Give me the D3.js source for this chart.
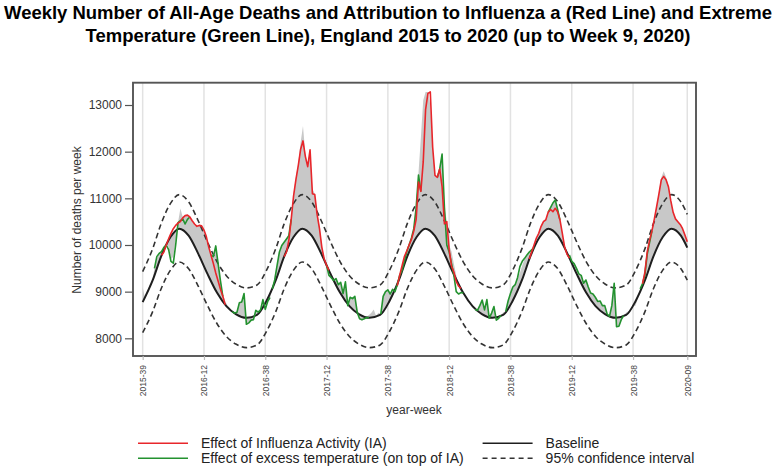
<!DOCTYPE html>
<html><head><meta charset="utf-8">
<script src="https://cdn.jsdelivr.net/npm/d3@7"></script>
<style>
body{margin:0;background:#fff;}
svg{display:block;}
text{font-family:"Liberation Sans",Arial,Helvetica,sans-serif;}
</style>
</head><body>
<svg id="c" width="776" height="472"></svg>
<script>
// ---------- data ----------
const titleLines = ["Weekly Number of All-Age Deaths and Attribution to Influenza a (Red Line) and Extreme",
                    "Temperature (Green Line), England 2015 to 2020 (up to Week 9, 2020)"];
const tickWeeks  = [0, 26, 52, 78, 104, 130, 156, 182, 208, 231];
const tickLabels = ["2015-39","2016-12","2016-38","2017-12","2017-38","2018-12","2018-38","2019-12","2019-38","2020-09"];
const yTicks = [8000, 9000, 10000, 11000, 12000, 13000];

// smooth baseline and 95% limits, sampled at week index
const baseWeeks = [0, 4.3, 7.8, 11.8,
  15.5, 19.5, 23.5, 27.5, 31.5, 35.5, 39.5, 44, 48.5, 52.5, 56.5, 60, 64,
  67.7, 71.7, 75.7, 79.7, 83.7, 87.7, 91.7, 96.2, 100.7, 104.7, 108.7, 112.2, 116.2,
  119.9, 123.9, 127.9, 131.9, 135.9, 139.9, 143.9, 148.4, 152.9, 156.9, 160.9, 164.4, 168.4,
  172.1, 176.1, 180.1, 184.1, 188.1, 192.1, 196.1, 200.6, 205.1, 209.1, 213.1, 216.6, 220.6,
  224.3, 228.3, 231];
const baseline = [8775, 9250, 9750, 10170,
  10350, 10200, 9820, 9380, 8980, 8690, 8520, 8440, 8500, 8800, 9250, 9750, 10170,
  10350, 10200, 9820, 9380, 8980, 8690, 8520, 8440, 8500, 8800, 9250, 9750, 10170,
  10350, 10200, 9820, 9380, 8980, 8690, 8520, 8440, 8500, 8800, 9250, 9750, 10170,
  10350, 10200, 9820, 9380, 8980, 8690, 8520, 8440, 8500, 8800, 9250, 9750, 10170,
  10350, 10200, 9945];
const upperCI = [9430, 9928, 10452, 10891,
  11080, 10923, 10525, 10064, 9645, 9342, 9164, 9080, 9143, 9457, 9928, 10452, 10891,
  11080, 10923, 10525, 10064, 9645, 9342, 9164, 9080, 9143, 9457, 9928, 10452, 10891,
  11080, 10923, 10525, 10064, 9645, 9342, 9164, 9080, 9143, 9457, 9928, 10452, 10891,
  11080, 10923, 10525, 10064, 9645, 9342, 9164, 9080, 9143, 9457, 9928, 10452, 10891,
  11080, 10923, 10656];
const lowerCI = [8122, 8578, 9058, 9461,
  9634, 9490, 9125, 8702, 8318, 8040, 7877, 7800, 7858, 8146, 8578, 9058, 9461,
  9634, 9490, 9125, 8702, 8318, 8040, 7877, 7800, 7858, 8146, 8578, 9058, 9461,
  9634, 9490, 9125, 8702, 8318, 8040, 7877, 7800, 7858, 8146, 8578, 9058, 9461,
  9634, 9490, 9125, 8702, 8318, 8040, 7877, 7800, 7858, 8146, 8578, 9058, 9461,
  9634, 9490, 9245];

// observed weekly deaths, week index 0 (2015-39) .. 231 (2020-09)
const observed = [
  9100, 8850, 9000, 9150, 9200, 9500, 9700, 9820, 9850, 9950,
  10050, 9950, 9700, 9750, 10100, 10480, 10780, 10600, 10630, 10640,
  10600, 10500, 10430, 10380, 10420, 10400, 10300, 10150, 9950, 9800,
  9760, 9980, 9620, 9250, 8950, 8800, 8700, 8650, 8560, 8520,
  8550, 8760, 8790, 8960, 8300, 8340, 8380, 8420, 8600, 8560,
  8620, 8830, 8620, 8790, 8850, 9060, 9250, 9560, 9850, 9990,
  10060, 10130, 10250, 10600, 11100, 11450, 11750, 12200, 12550, 11950,
  11700, 12050, 11200, 11100, 10700, 10400, 10000, 9700, 9580, 9380,
  9320, 9250, 9280, 9150, 9200, 8960, 9210, 8700, 8880, 8850,
  8900, 8560, 8420, 8380, 8420, 8460, 8500, 8550, 8620, 8480,
  8550, 8520, 8900, 9000, 9040, 8950, 9060, 9000, 9150, 9380,
  9560, 9760, 9880, 10020, 10160, 10380, 10900, 11550, 12300, 13100,
  13280, 13280, 13000, 12100, 11500, 11460, 11640, 11960, 10800, 10520,
  10000, 9860, 9600, 9350, 9150, 9000, 8980, 8900, 8820, 8760,
  8650, 8620, 8600, 8700, 8820, 8610, 8830, 8430, 8540, 8680,
  8390, 8430, 8500, 8560, 8580, 8800, 8960, 9100, 9150, 9300,
  9400, 9560, 9700, 9760, 9850, 9900, 10000, 10150, 10260, 10420,
  10520, 10560, 10720, 10800, 10920, 10990, 10780, 10550, 10260, 9960,
  9820, 9790, 9650, 9600, 9500, 9380, 9350, 9180, 9250, 9100,
  8970, 8950, 8880, 8790, 8800, 8700, 8700, 8520, 8470, 8700,
  9180, 8250, 8260, 8400, 8490, 8550, 8580, 8620, 8680, 8700,
  8850, 9060, 9200, 9550, 9850, 10100, 10300, 10560, 10830, 11150,
  11450, 11580, 11450, 11260, 10960, 10700, 10560, 10500, 10440, 10350,
  10214, 10071];

// effect of influenza activity (red), segments: first week index + weekly values
const fluStart = [8, 60, 108, 164, 212];
const fluValues = [
  [9780, 9850, 10000, 10130, 10250, 10350, 10420, 10470, 10500, 10580, 10630, 10640, 10600, 10520,
   10450, 10400, 10420, 10410, 10320, 10180, 9960, 9780, 9600, 9400, 9230, 9050, 8900, 8720],
  [9750, 9850, 10100, 10550, 11050, 11400, 11700, 12050, 12230, 11900, 11680, 12040, 11100, 11080, 10650,
   10350, 9950, 9700, 9565, 9455],
  [9130, 9350, 9550, 9750, 9870, 10000, 10120, 10300, 10550, 11350, 11150, 11780, 12900, 13250, 13280,
   12100, 11490, 11450, 11630, 11250, 10450, 10500, 9900, 9550, 9420, 9220, 9120, 9070],
  [9700, 9850, 10000, 10150, 10250, 10400, 10500, 10540, 10700, 10760, 10714, 10786, 10714, 10536, 10250,
   9950, 9800, 9720],
  [9170, 9400, 9850, 10100, 10300, 10550, 10820, 11100, 11400, 11470, 11400, 11250, 10950, 10700, 10560,
   10500, 10440, 10350, 10214, 10071]
];

// effect of excess temperature on top of IA (green), segments
const tempStart = [5, 29, 38, 55, 78, 101, 125, 141, 154, 172, 181, 211];
const tempValues = [
  [9500, 9750, 9820, 9860, 9950, 10000, 9900, 9650, 9610, 10000, 10480, 10520, 10560, 10450, 10550, 10600],
  [9780, 9750, 9980, 9600, 9230, 8900],
  [8570, 8540, 8560, 8760, 8780, 8960, 8300, 8330, 8390, 8400, 8600, 8560, 8610, 8830, 8620, 8785, 8875],
  [9060, 9250, 9560, 9850, 9990, 10060, 10130, 10200, 10550],
  [9565, 9350, 9300, 9240, 9280, 9150, 9200, 8960, 9210, 8700, 8880, 8850, 8900, 8560, 8420, 8400, 8420, 8447, 8440],
  [8520, 8900, 9000, 9040, 8950, 9050, 9000, 9150, 9350, 9450, 9650, 9850, 10000, 10150, 10350, 10800, 11500, 11150],
  [11450, 11630, 11950, 10800, 10000, 9850, 9600, 9350, 9000, 8950, 8980, 8970],
  [8620, 8600, 8700, 8820, 8610, 8830, 8430, 8540, 8680, 8390, 8430, 8490],
  [8575, 8800, 8960, 9100, 9150, 9300, 9535, 9650, 9714, 9786, 9850, 9893, 9950],
  [10700, 10800, 10900, 10964, 10760, 10536],
  [9786, 9650, 9600, 9500, 9380, 9350, 9180, 9250, 9100, 8970, 8950, 8880, 8790, 8800, 8700, 8700, 8520, 8470,
   8700, 9180, 8250, 8260, 8400, 8485],
  [9060, 9170, 9350, 9800, 10050, 10300]
];

const legendItems = [
  {label: "Effect of Influenza Activity (IA)", color: "#e8262b", dash: null},
  {label: "Effect of excess temperature (on top of IA)", color: "#23922f", dash: null},
  {label: "Baseline", color: "#1e1e1e", dash: null},
  {label: "95% confidence interval", color: "#333333", dash: "5,4"}
];

// ---------- chart ----------
const svg = d3.select("#c");
const L = 133, R = 696, T = 82.7, B = 356;
const x = d3.scaleLinear().domain([-4.1, 234.7]).range([L, R]);
const y = d3.scaleLinear().domain([7621, 13478]).range([B, T]);

// title
const tg = svg.append("g");
const t1 = tg.append("text").attr("x", 388).attr("y", 19).attr("text-anchor", "middle")
  .attr("font-weight", "bold").attr("font-size", 17).attr("fill", "#000").text(titleLines[0]);
const w1 = t1.node().getComputedTextLength();
const fs = 17 * 768 / w1;
t1.attr("font-size", fs);
tg.append("text").attr("x", 388).attr("y", 42).attr("text-anchor", "middle")
  .attr("font-weight", "bold").attr("font-size", fs).attr("fill", "#000").text(titleLines[1]);

// vertical grid
svg.append("g").selectAll("line").data(tickWeeks).join("line")
  .attr("x1", d => x(d)).attr("x2", d => x(d)).attr("y1", T).attr("y2", B)
  .attr("stroke", "#e2e2e2").attr("stroke-width", 1.5);

// grey shading between observed and baseline (even-odd of two areas)
const areaObs = d3.area().x((d, i) => x(i)).y0(B).y1(d => y(d));
const areaBase = d3.area().x((d, i) => x(baseWeeks[i])).y0(B).y1(d => y(d)).curve(d3.curveMonotoneX);
svg.append("path").attr("d", areaObs(observed) + areaBase(baseline))
  .attr("fill", "#c8c8c8").attr("fill-rule", "evenodd").attr("stroke", "none");

// CI dashed lines
const lineBase = d3.line().x((d, i) => x(baseWeeks[i])).y(d => y(d)).curve(d3.curveMonotoneX);
[upperCI, lowerCI].forEach(arr => {
  svg.append("path").attr("d", lineBase(arr)).attr("fill", "none")
    .attr("stroke", "#333").attr("stroke-width", 1.6).attr("stroke-dasharray", "5.5,3.5");
});
// baseline
svg.append("path").attr("d", lineBase(baseline)).attr("fill", "none")
  .attr("stroke", "#1e1e1e").attr("stroke-width", 2);

// segments
function drawSegs(starts, vals, color) {
  starts.forEach((s, k) => {
    const ln = d3.line().x((d, i) => x(s + i)).y(d => y(d));
    svg.append("path").attr("d", ln(vals[k])).attr("fill", "none")
      .attr("stroke", color).attr("stroke-width", 1.6).attr("stroke-linejoin", "round");
  });
}
drawSegs(tempStart, tempValues, "#23922f");
drawSegs(fluStart, fluValues, "#e8262b");

// frame
svg.append("rect").attr("x", L).attr("y", T).attr("width", R - L).attr("height", B - T)
  .attr("fill", "none").attr("stroke", "#555").attr("stroke-width", 1.9);

// y axis
const ya = svg.append("g").attr("transform", `translate(${L},0)`)
  .call(d3.axisLeft(y).tickValues(yTicks).tickSize(8).tickPadding(3).tickFormat(d3.format("d")));
ya.select(".domain").remove();
ya.selectAll(".tick line").attr("stroke", "#555").attr("stroke-width", 1.2);
ya.selectAll(".tick text").attr("font-size", 12).attr("fill", "#333")
  .style("font-family", '"Liberation Sans",Arial,sans-serif');

// x axis
const xa = svg.append("g").attr("transform", `translate(0,${B})`)
  .call(d3.axisBottom(x).tickValues(tickWeeks).tickSize(4).tickFormat((d, i) => tickLabels[i]));
xa.select(".domain").remove();
xa.selectAll(".tick line").attr("stroke", "#bbb").attr("stroke-width", 1.2);
xa.selectAll(".tick text").attr("transform", "rotate(-90)").attr("x", -9).attr("y", 0)
  .attr("dy", "0.35em").style("text-anchor", "end").attr("font-size", 8.5).attr("fill", "#444")
  .style("font-family", '"Liberation Sans",Arial,sans-serif');

// axis titles
svg.append("text").attr("x", 414).attr("y", 414).attr("text-anchor", "middle")
  .attr("font-size", 12).attr("fill", "#333").text("year-week");
svg.append("text").attr("transform", "translate(81,220) rotate(-90)").attr("text-anchor", "middle")
  .attr("font-size", 12).attr("fill", "#333").text("Number of deaths per week");

// legend
const legPos = [[138, 443.3], [138, 458.3], [482.6, 443.3], [482.6, 458.3]];
legendItems.forEach((it, i) => {
  const [lx, ly] = legPos[i];
  svg.append("line").attr("x1", lx).attr("x2", lx + 50).attr("y1", ly).attr("y2", ly)
    .attr("stroke", it.color).attr("stroke-width", 1.6)
    .attr("stroke-dasharray", it.dash);
  svg.append("text").attr("x", lx + 63).attr("y", ly + 5)
    .attr("font-size", 14).attr("fill", "#222").text(it.label);
});
</script>
</body></html>
